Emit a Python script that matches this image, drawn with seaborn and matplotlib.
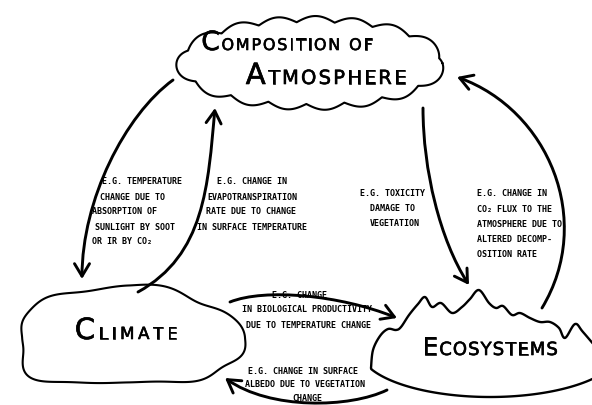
import numpy as np
import matplotlib
matplotlib.use("Agg")
import matplotlib.pyplot as plt
import matplotlib.patheffects as pe
import seaborn as sns
from matplotlib.patches import FancyArrowPatch, Polygon, ArrowStyle
from matplotlib.path import Path
from matplotlib.offsetbox import TextArea, HPacker, AnnotationBbox

# ---------------- data ----------------
node_names = ["Composition of Atmosphere", "Climate", "Ecosystems"]
node_label_parts = [
    [("C", "OMPOSITION OF"), ("A", "TMOSPHERE")],
    [("C", "LIMATE")],
    [("E", "COSYSTEMS")],
]
link_source = [0, 1, 0, 2, 1, 2]
link_target = [1, 0, 2, 0, 2, 1]
link_examples = [
    ["E.G. TEMPERATURE", "CHANGE DUE TO", "ABSORPTION OF", "SUNLIGHT BY SOOT", "OR IR BY CO\u2082"],
    ["E.G. CHANGE IN", "EVAPOTRANSPIRATION", "RATE DUE TO CHANGE", "IN SURFACE TEMPERATURE"],
    ["E.G. TOXICITY", "DAMAGE TO", "VEGETATION"],
    ["E.G. CHANGE IN", "CO\u2082 FLUX TO THE", "ATMOSPHERE DUE TO", "ALTERED DECOMP-", "OSITION RATE"],
    ["E.G. CHANGE", "IN BIOLOGICAL PRODUCTIVITY", "DUE TO TEMPERATURE CHANGE"],
    ["E.G. CHANGE IN SURFACE", "ALBEDO DUE TO VEGETATION", "CHANGE"],
]

# ---------------- layout (pixel space, y down) ----------------
W, H = 592, 405
# label rows: (center x, center y, big size, small size, tracking)
label_layout = [
    [(287, 43, 19, 11.5, 1.3), (326, 76, 21, 14, 1.6)],
    [(126, 331, 21, 12, 2.6)],
    [(490, 348, 18, 13, 0.8)],
]
# arrows: cubic bezier P0, C1, C2, P3
arrow_layout = [
    [(173, 80), (125, 115), (82, 200), (82, 279)],
    [(138, 292), (205, 255), (208, 185), (215, 108)],
    [(423, 108), (423, 170), (440, 240), (469, 285)],
    [(542, 308), (595, 220), (548, 110), (457, 77)],
    [(230, 302), (265, 288), (340, 295), (397, 318)],
    [(387, 390), (350, 408), (270, 410), (225, 378)],
]
# example text blocks: (alignment, list of x per line, first y, line step)
text_layout = [
    ("left", [102, 100, 92, 95, 92], 182, 15),
    ("left", [217, 207, 206, 197], 182, 15),
    ("center", [392, 392, 395], 193, 15.3),
    ("left", [477, 477, 477, 477, 477], 194, 15.2),
    ("center", [300, 307, 309], 295, 15),
    ("center", [303, 305, 307], 371, 13.8),
]
ridge = [(371, 368), (373, 350), (380, 336), (388, 329), (396, 330), (401, 327),
         (409, 315), (418, 304), (425, 297), (432, 307), (441, 303), (452, 313),
         (462, 307), (470, 299), (479, 290), (489, 303), (496, 308), (503, 306),
         (512, 315), (520, 313), (530, 318), (540, 322), (550, 322), (559, 328),
         (565, 338), (575, 324), (583, 332), (600, 352)]

sns.set_theme(style="white")
plt.rcParams["font.family"] = ["DejaVu Sans"]

fig = plt.figure(figsize=(W / 100, H / 100), dpi=100)
ax = fig.add_axes([0, 0, 1, 1])
ax.set_xlim(0, W)
ax.set_ylim(H, 0)
ax.axis("off")
sns.despine(ax=ax, left=True, bottom=True)

LW_SHAPE = 1.5
LW_ARROW = 2.1


def catmull(pts, n=10):
    pts = np.asarray(pts, float)
    P = np.vstack([pts[0], pts, pts[-1]])
    out = []
    t = np.linspace(0, 1, n, endpoint=False)[:, None]
    for i in range(1, len(P) - 2):
        p0, p1, p2, p3 = P[i - 1], P[i], P[i + 1], P[i + 2]
        out.append(0.5 * ((2 * p1) + (-p0 + p2) * t + (2 * p0 - 5 * p1 + 4 * p2 - p3) * t ** 2
                          + (-p0 + 3 * p1 - 3 * p2 + p3) * t ** 3))
    out.append(P[-2][None])
    return np.vstack(out)


# --- cloud (Composition of Atmosphere) ---
cx, cy, rx, ry, A, nb = 311, 63, 129, 41, 6, 15
th = np.linspace(0, 2 * np.pi, 4000)
ex, ey = rx * np.cos(th), ry * np.sin(th)
seg = np.hypot(np.diff(ex), np.diff(ey))
s = np.concatenate([[0], np.cumsum(seg)])
L = s[-1]
nx, ny = np.cos(th) / rx, np.sin(th) / ry
nn = np.hypot(nx, ny)
nx, ny = nx / nn, ny / nn
off = A * np.abs(np.sin(np.pi * nb * s / L + 0.4))
cloud = np.column_stack([cx + ex + off * nx, cy + ey + off * ny])
ax.add_patch(Polygon(cloud, closed=True, facecolor="white", edgecolor="black",
                     lw=LW_SHAPE, zorder=2, joinstyle="round"))

# --- climate blob ---
th = np.linspace(0, 2 * np.pi, 800)
p = 2.6
c, sn = np.cos(th), np.sin(th)
ux = np.sign(c) * np.abs(c) ** (2 / p)
uy = np.sign(sn) * np.abs(sn) ** (2 / p)
w = 4.0 * np.sin(3 * th + 0.8) + 3.0 * np.sin(5 * th + 2.0) + 1.5 * np.sin(8 * th + 0.3)
blob = np.column_stack([128 + (111 + w) * ux, 338 + (48 + w) * uy])
ax.add_patch(Polygon(blob, closed=True, facecolor="white", edgecolor="black",
                     lw=LW_SHAPE, zorder=2, joinstyle="round"))

# --- ecosystems ---
top = catmull(ridge, 8)
ang = np.linspace(np.deg2rad(156), np.deg2rad(25), 200)
bottom = np.column_stack([490 + 130 * np.cos(ang), 350 + 47 * np.sin(ang)])
eco = np.vstack([top, bottom[::-1]])
ax.add_patch(Polygon(eco, closed=True, facecolor="white", edgecolor="black",
                     lw=LW_SHAPE + 0.2, zorder=2, joinstyle="round"))

# --- arrows ---
style = ArrowStyle("->", head_length=0.5, head_width=0.3)
for k, (src, tgt) in enumerate(zip(link_source, link_target)):
    pts = arrow_layout[k]
    path = Path(pts, [Path.MOVETO, Path.CURVE4, Path.CURVE4, Path.CURVE4])
    arr = FancyArrowPatch(path=path, arrowstyle=style, mutation_scale=18,
                          lw=LW_ARROW, color="black", transform=ax.transData,
                          zorder=3, capstyle="round", joinstyle="round")
    ax.add_patch(arr)

# --- example texts ---
for k, lines in enumerate(link_examples):
    ha, xs, y0, dy = text_layout[k]
    for i, line in enumerate(lines):
        ax.text(xs[i], y0 + i * dy, line, ha=ha, va="center",
                family="DejaVu Sans Mono", weight="bold", size=6.0,
                color="black", zorder=4)

# --- node labels (small caps, hand-lettered look) ---
stroke = [pe.withStroke(linewidth=0.45, foreground="black")]
for n, parts in enumerate(node_label_parts):
    for r, (big, rest) in enumerate(parts):
        x, y, bsz, ssz, trk = label_layout[n][r]
        items = [TextArea(big, textprops=dict(size=bsz, color="black", family="DejaVu Sans",
                                              path_effects=stroke))]
        for ch in rest:
            items.append(TextArea(ch, textprops=dict(size=ssz, color="black", family="DejaVu Sans",
                                                     path_effects=stroke)))
        box = HPacker(children=items, align="baseline", pad=0, sep=trk)
        ab = AnnotationBbox(box, (x, y), xycoords="data", frameon=False,
                            box_alignment=(0.5, 0.5), pad=0, zorder=5)
        ax.add_artist(ab)

fig.savefig("out.png", dpi=100, facecolor="white")
